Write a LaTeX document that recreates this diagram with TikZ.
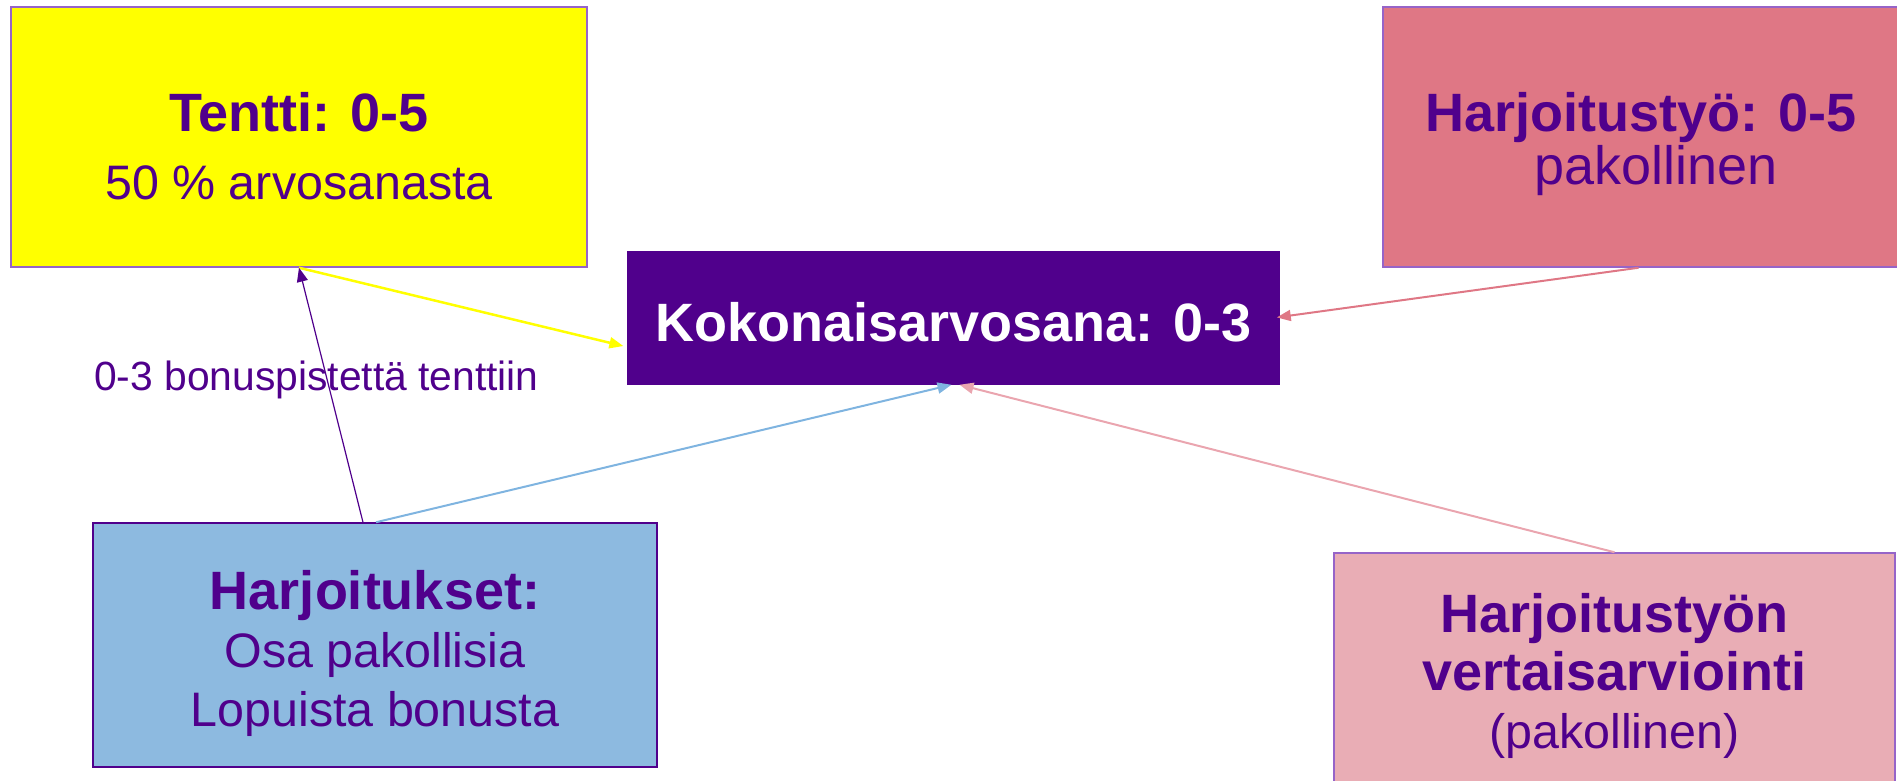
\documentclass[tikz,border=0pt]{standalone}
\usepackage{fontspec}
\setmainfont{Liberation Sans}
\usetikzlibrary{arrows.meta}
\definecolor{ind}{RGB}{80,0,140}
\definecolor{yel}{RGB}{255,255,0}
\definecolor{redbox}{RGB}{223,119,133}
\definecolor{pinkbox}{RGB}{233,173,181}
\definecolor{bluebox}{RGB}{141,186,224}
\definecolor{bluearr}{RGB}{127,180,224}
\definecolor{pinkarr}{RGB}{234,165,175}
\definecolor{lightborder}{RGB}{150,100,200}
\tikzset{
  box/.style={rectangle, inner sep=0pt, line width=1.5pt},
  txt/.style={text=ind, align=center, inner sep=0pt, anchor=base},
  conn/.style={-{Triangle[length=14pt,width=11pt]}, line width=2pt},
}
\newcommand{\ttlf}{\bfseries\fontsize{54}{60}\selectfont}
\begin{document}
\begin{tikzpicture}[x=1pt,y=-1pt]
\useasboundingbox (0,0) rectangle (1897,781);
\clip (0,0) rectangle (1897,781);
% boxes
\node[box, fill=yel, draw=lightborder, minimum width=576pt, minimum height=260pt] (tentti) at (299,137) {};
\node[box, fill=ind, draw=ind, minimum width=651pt, minimum height=132pt] (koko) at (953.5,318) {};
\node[box, fill=redbox, draw=lightborder, minimum width=517pt, minimum height=260pt] (tyo) at (1641.5,137) {};
\node[box, fill=bluebox, draw=ind, minimum width=564pt, minimum height=244pt] (harj) at (375,645) {};
\node[box, fill=pinkbox, draw=lightborder, minimum width=561pt, minimum height=237pt] (vert) at (1614.5,671.5) {};
% texts (base anchor = baseline of the last line)
\node[txt, font=\fontsize{48.4}{68}\selectfont] (tentti-t) at (299,199) {{\ttlf Tentti: 0-5}\\50 \% arvosanasta};
\node[txt, text=white, font=\bfseries\fontsize{54}{60}\selectfont] (koko-t) at (953.5,341) {Kokonaisarvosana: 0-3};
\node[txt, font=\fontsize{54}{53}\selectfont] (tyo-t) at (1641,184) {{\ttlf Harjoitustyö: 0-5}\\\hspace*{30pt}pakollinen};
\node[txt, font=\fontsize{48.4}{58.5}\selectfont] (harj-t) at (375,726) {{\ttlf Harjoitukset:}\\Osa pakollisia\\Lopuista bonusta};
\node[txt, font=\fontsize{48.4}{58}\selectfont] (vert-t) at (1614.5,748) {{\ttlf Harjoitustyön}\\{\ttlf vertaisarviointi}\\(pakollinen)};
\node[txt, anchor=base west, font=\fontsize{40.8}{48}\selectfont] (bonus) at (94,390) {0-3 bonuspistettä tenttiin};
% connectors
\draw[conn, yel, line width=2.5pt, shorten >=4pt] (tentti.south) -- ([yshift=-29pt]koko.west);
\draw[conn, ind, line width=1.2pt] ([xshift=-12pt]harj.north) -- (tentti.south);
\draw[conn, bluearr] ([xshift=1pt]harj.north) -- ([xshift=-2pt]koko.south);
\draw[conn, pinkarr] (vert.north) -- ([xshift=6pt]koko.south);
\draw[conn, redbox, shorten >=-3pt] ([xshift=-3pt]tyo.south) -- ([yshift=1pt]koko.east);
\end{tikzpicture}
\end{document}
